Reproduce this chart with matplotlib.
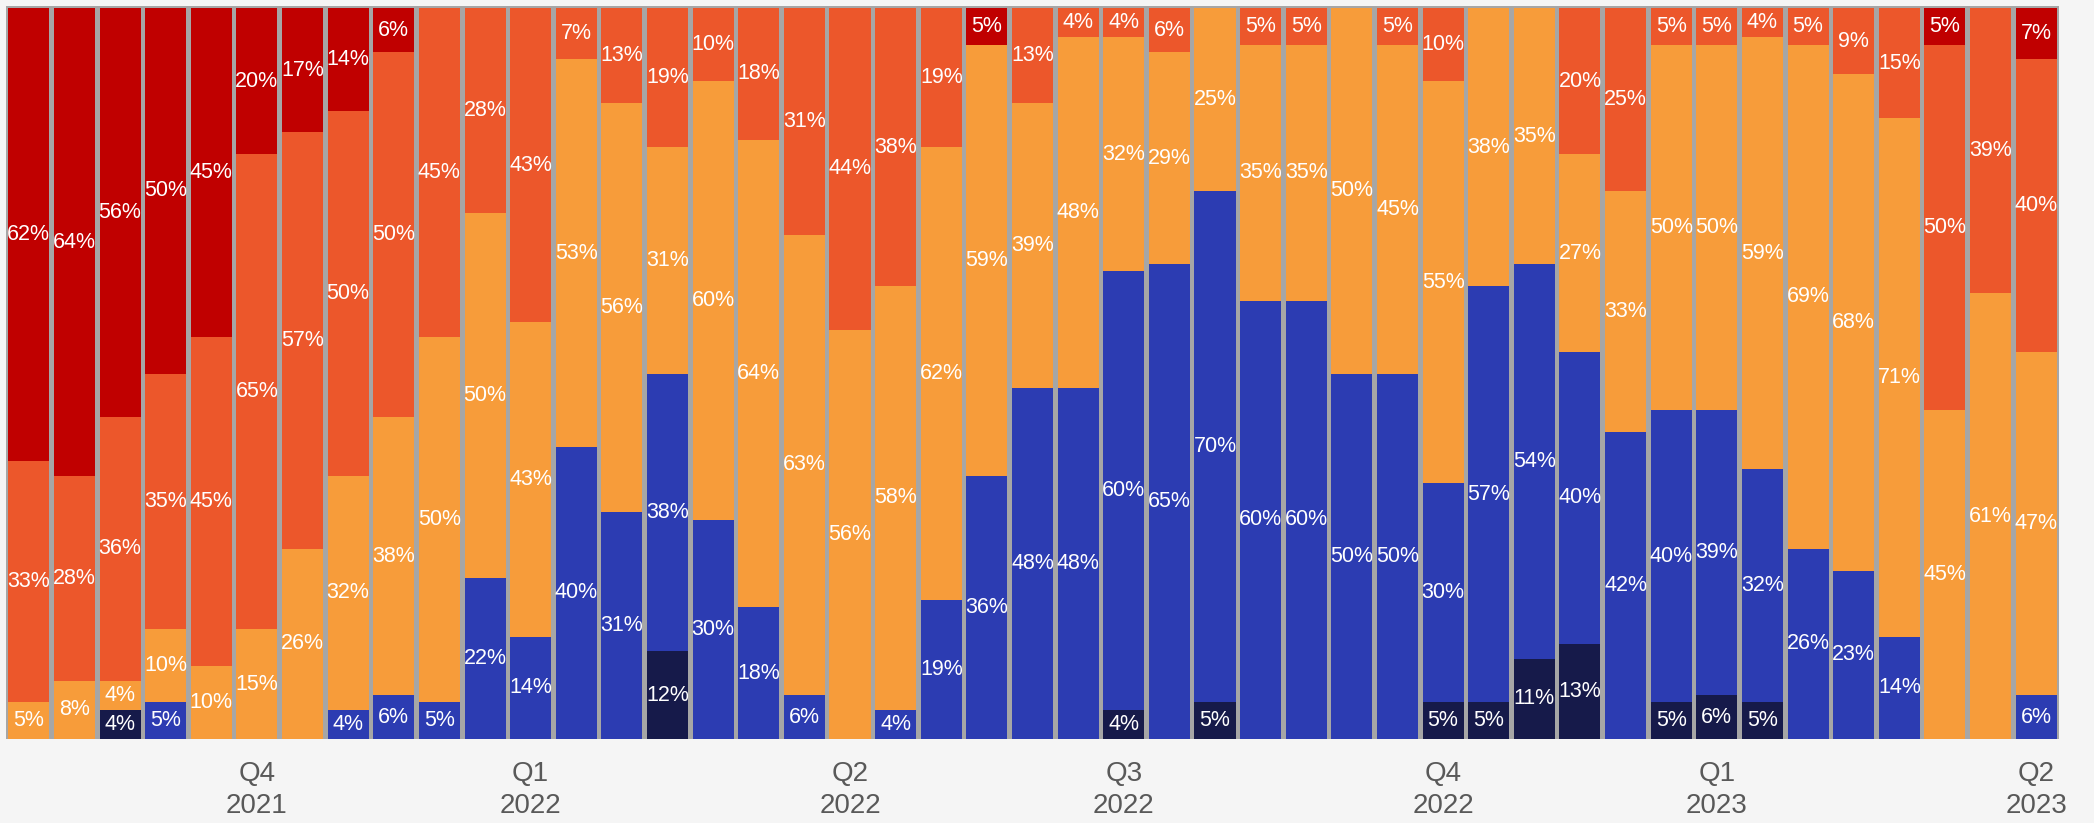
import matplotlib
matplotlib.use("Agg")
import matplotlib.pyplot as plt
import numpy as np

plt.rcParams['font.family'] = ['Liberation Sans', 'DejaVu Sans']

#------------------------------------------------------------------------------
# Data: share of responses per week (%), stacked bottom -> top
#------------------------------------------------------------------------------
navy = [0, 0, 4, 0, 0, 0, 0, 0, 0, 0, 0, 0, 0, 0, 12, 0, 0, 0, 0, 0, 0, 0, 0,
        0, 4, 0, 5, 0, 0, 0, 0, 5, 5, 11, 13, 0, 5, 6, 5, 0, 0, 0, 0, 0, 0]
blue = [0, 0, 0, 5, 0, 0, 0, 4, 6, 5, 22, 14, 40, 31, 38, 30, 18, 6, 0, 4, 19,
        36, 48, 48, 60, 65, 70, 60, 60, 50, 50, 30, 57, 54, 40, 42, 40, 39, 32,
        26, 23, 14, 0, 0, 6]
amber = [5, 8, 4, 10, 10, 15, 26, 32, 38, 50, 50, 43, 53, 56, 31, 60, 64, 63,
         56, 58, 62, 59, 39, 48, 32, 29, 25, 35, 35, 50, 45, 55, 38, 35, 27, 33,
         50, 50, 59, 69, 68, 71, 45, 61, 47]
orange = [33, 28, 36, 35, 45, 65, 57, 50, 50, 45, 28, 43, 7, 13, 19, 10, 18, 31,
          44, 38, 19, 0, 13, 4, 4, 6, 0, 5, 5, 0, 5, 10, 0, 0, 20, 25, 5, 5, 4,
          5, 9, 15, 50, 39, 40]
red = [62, 64, 56, 50, 45, 20, 17, 14, 6, 0, 0, 0, 0, 0, 0, 0, 0, 0, 0, 0, 0,
       5, 0, 0, 0, 0, 0, 0, 0, 0, 0, 0, 0, 0, 0, 0, 0, 0, 0, 0, 0, 0, 5, 0, 7]

tick_pos = [5, 11, 18, 24, 31, 37, 44]
tick_labels = ['Q4\n2021', 'Q1\n2022', 'Q2\n2022', 'Q3\n2022',
               'Q4\n2022', 'Q1\n2023', 'Q2\n2023']

series = [navy, blue, amber, orange, red]
colors = ['#161a4a', '#2c3cb2', '#f79c3a', '#ec572b', '#c00000']

#------------------------------------------------------------------------------
# Plot
#------------------------------------------------------------------------------
fig = plt.figure(figsize=(20.94, 8.23), dpi=100, facecolor='#f5f5f5')
ax = fig.add_axes([6/2094, 1 - 739/823, 2053/2094, 733/823])
ax.set_facecolor('#a6a6a6')  # shows through the gaps between bars

x = np.arange(len(navy))
bottom = np.zeros(len(x))
for vals, col in zip(series, colors):
    vals = np.array(vals, dtype=float)
    ax.bar(x, vals, width=0.9, bottom=bottom, color=col, linewidth=0)
    for xi, v, b in zip(x, vals, bottom):
        if v > 0:
            ax.text(xi, b + v / 2, f'{int(v)}%', ha='center', va='center',
                    color='white', fontsize=15.5)
    bottom += vals

ax.set_xlim(-0.5, len(x) - 0.5)
ax.set_ylim(0, 100.3)
ax.set_yticks([])
ax.set_xticks(tick_pos)
ax.set_xticklabels(tick_labels, fontsize=20, color='#595959', linespacing=1.28)
ax.tick_params(axis='x', length=0, pad=16)
for s in ax.spines.values():
    s.set_visible(False)

fig.savefig('out.png', dpi=100, facecolor=fig.get_facecolor())
